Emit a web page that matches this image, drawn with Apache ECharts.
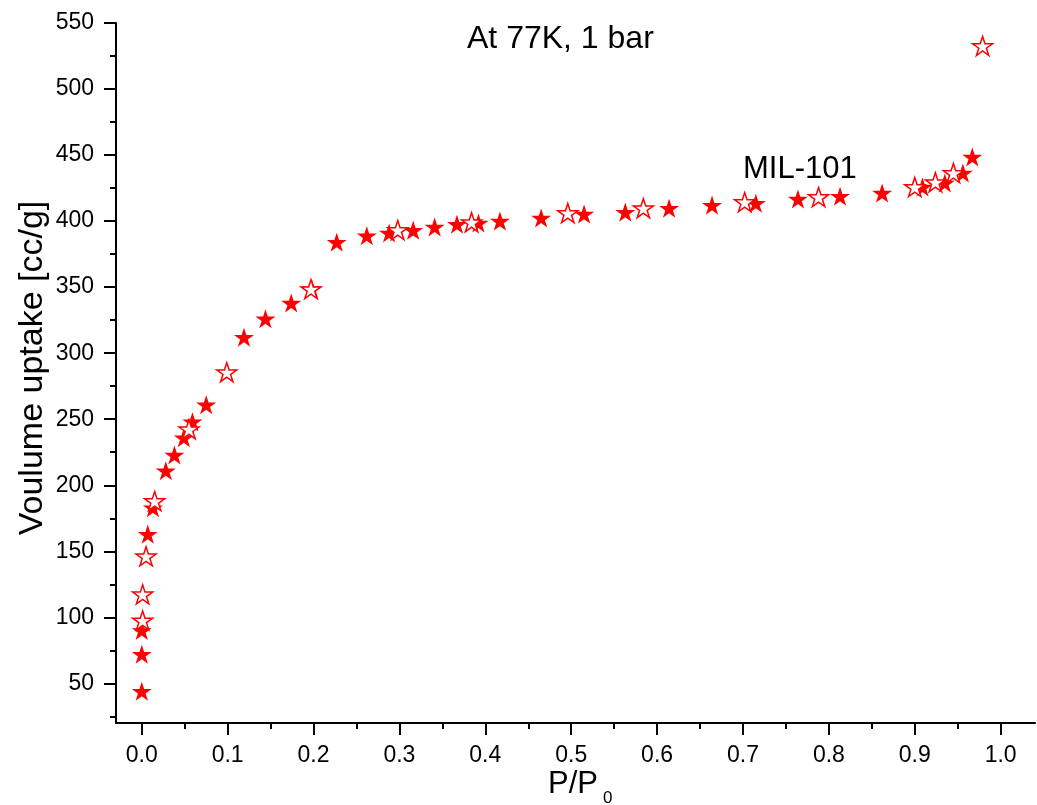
<!DOCTYPE html>
<html>
<head>
<meta charset="utf-8">
<script src="https://cdn.jsdelivr.net/npm/echarts@6/dist/echarts.min.js"></script>
<style>html,body{margin:0;padding:0;background:#fff;}#c{width:1037px;height:805px;}</style>
</head>
<body>
<div id="c"></div>
<script>
// ---- data ----
const xTicks = [0, 0.1, 0.2, 0.3, 0.4, 0.5, 0.6, 0.7, 0.8, 0.9, 1.0];
const xTickLabels = ['0.0','0.1','0.2','0.3','0.4','0.5','0.6','0.7','0.8','0.9','1.0'];
const xMinorTicks = [0.05, 0.15, 0.25, 0.35, 0.45, 0.55, 0.65, 0.75, 0.85, 0.95];
const yTicks = [50, 100, 150, 200, 250, 300, 350, 400, 450, 500, 550];
const yTickLabels = ['50','100','150','200','250','300','350','400','450','500','550'];
const yMinorTicks = [25, 75, 125, 175, 225, 275, 325, 375, 425, 475, 525];

// filled stars (adsorption)
const adsP = [0.0, 0.0, 0.0, 0.007, 0.013, 0.028, 0.038, 0.049, 0.059, 0.075, 0.119, 0.144, 0.174, 0.198,
  0.227, 0.262, 0.288, 0.316, 0.341, 0.367, 0.392, 0.417, 0.465, 0.515, 0.563, 0.614, 0.664, 0.715, 0.764,
  0.813, 0.862, 0.909, 0.935, 0.956, 0.967];
const adsV = [44, 72, 90, 163, 183, 211, 223, 236, 248, 261, 312, 326, 338, 349,
  384, 389, 391, 393, 395.5, 397.7, 398.5, 400, 402.3, 405.3, 406.8, 409.8, 412.1, 413.6, 416.7,
  418.9, 421.2, 425.8, 428.8, 436.4, 448.5];

// hollow stars (desorption)
const desP = [0.001, 0.001, 0.005, 0.015, 0.055, 0.099, 0.197, 0.298, 0.384, 0.496, 0.584, 0.702, 0.788,
  0.900, 0.924, 0.945, 0.979];
const desV = [97.7, 117.4, 146.2, 188, 242.4, 285.6, 348.5, 393.2, 399.2, 406.1, 409.8, 414.4, 418.2,
  425.8, 429.5, 436.4, 532.6];

const titleText = 'At 77K, 1 bar';
const sampleText = 'MIL-101';
const xName = 'P/P';
const xNameSub = '0';
const yName = 'Voulume uptake [cc/g]';

const STAR = 'path://M0,-1L0.2245,-0.309L0.951,-0.309L0.363,0.118L0.588,0.809L0,0.382L-0.588,0.809L-0.363,0.118L-0.951,-0.309L-0.2245,-0.309Z';
const FONT = '"Liberation Sans", Arial, sans-serif';

const chart = echarts.init(document.getElementById('c'));
const axisLine = { show: true, onZero: false, lineStyle: { color: '#000', width: 2 } };

chart.setOption({
  backgroundColor: '#fff',
  animation: false,
  grid: { left: 116, right: 2, top: 23, bottom: 82, containLabel: false, outerBoundsMode: 'none' },
  xAxis: [{
    type: 'value', min: -0.03, max: 1.04,
    axisLine: axisLine,
    splitLine: { show: false },
    axisTick: { show: true, customValues: xTicks, length: 12, lineStyle: { color: '#000', width: 2 } },
    axisLabel: { show: true, customValues: xTicks, margin: 21, color: '#000', fontSize: 23, fontFamily: FONT,
      formatter: function (v) { const i = xTicks.findIndex(t => Math.abs(t - v) < 1e-9); return i >= 0 ? xTickLabels[i] : ''; } }
  }, {
    type: 'value', min: -0.03, max: 1.04, position: 'bottom', offset: 0,
    axisLine: { show: false, onZero: false },
    splitLine: { show: false },
    axisTick: { show: true, customValues: xMinorTicks, length: 6, lineStyle: { color: '#000', width: 2 } },
    axisLabel: { show: false }
  }],
  yAxis: [{
    type: 'value', min: 20, max: 550,
    axisLine: axisLine,
    splitLine: { show: false },
    axisTick: { show: true, customValues: yTicks, length: 12, lineStyle: { color: '#000', width: 2 } },
    axisLabel: { show: true, customValues: yTicks, margin: 22, color: '#000', fontSize: 23, fontFamily: FONT,
      formatter: function (v) { const i = yTicks.findIndex(t => Math.abs(t - v) < 1e-9); return i >= 0 ? yTickLabels[i] : ''; } }
  }, {
    type: 'value', min: 20, max: 550, position: 'left', offset: 0,
    axisLine: { show: false, onZero: false },
    splitLine: { show: false },
    axisTick: { show: true, customValues: yMinorTicks, length: 6, lineStyle: { color: '#000', width: 2 } },
    axisLabel: { show: false }
  }],
  series: [{
    type: 'scatter', xAxisIndex: 0, yAxisIndex: 0,
    data: adsP.map((p, i) => [p, adsV[i]]),
    symbol: STAR, symbolSize: 20, symbolKeepAspect: true,
    itemStyle: { color: '#ff0000', opacity: 1 }
  }, {
    type: 'scatter', xAxisIndex: 0, yAxisIndex: 0,
    data: desP.map((p, i) => [p, desV[i]]),
    symbol: STAR, symbolSize: 20, symbolKeepAspect: true,
    itemStyle: { color: '#ffffff', borderColor: '#ff0000', borderWidth: 1.5, opacity: 1 }
  }],
  graphic: [
    { type: 'text', left: 467, top: 23, style: { text: titleText, fill: '#000', font: '32px ' + FONT } },
    { type: 'text', left: 743, top: 154, style: { text: sampleText, fill: '#000', font: '31px ' + FONT } },
    { type: 'text', left: 548, top: 769, style: { text: xName, fill: '#000', font: '31px ' + FONT } },
    { type: 'text', left: 603, top: 790, style: { text: xNameSub, fill: '#000', font: '17px ' + FONT } },
    { type: 'text', x: 33, y: 368, rotation: Math.PI / 2,
      style: { text: yName, fill: '#000', font: '34px ' + FONT, textAlign: 'center', textVerticalAlign: 'middle' } }
  ]
});
</script>
</body>
</html>
